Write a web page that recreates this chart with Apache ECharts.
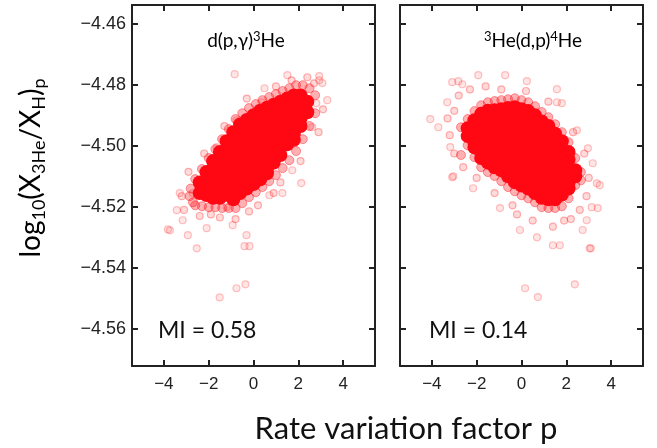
<!DOCTYPE html>
<html>
<head>
<meta charset="utf-8">
<script src="https://cdn.jsdelivr.net/npm/echarts@6/dist/echarts.min.js"></script>
<style>html,body{margin:0;padding:0;background:#fff;}#c{width:657px;height:448px;}</style>
</head>
<body>
<div id="c"></div>
<script>
// ---- data ----
var xTicks = [-4, -2, 0, 2, 4];
var yTicks = [-4.56, -4.54, -4.52, -4.50, -4.48, -4.46];
var miValues = ['0.58', '0.14'];

// d(p,gamma)3He panel : dense core of the cloud
var leftCore = [
  [-2.4,-4.512],[-2.4,-4.5155],
  [-2.1,-4.5086],[-2.1,-4.5111],[-2.1,-4.5136],[-2.1,-4.5161],
  [-1.8,-4.505],[-1.8,-4.5075],[-1.8,-4.510],[-1.8,-4.5125],[-1.8,-4.515],[-1.8,-4.517],
  [-1.5,-4.502],[-1.5,-4.5045],[-1.5,-4.507],[-1.5,-4.5095],[-1.5,-4.512],[-1.5,-4.5145],[-1.5,-4.517],
  [-1.2,-4.4985],[-1.2,-4.501],[-1.2,-4.5035],[-1.2,-4.506],[-1.2,-4.5085],[-1.2,-4.511],[-1.2,-4.5135],[-1.2,-4.516],
  [-0.9,-4.4955],[-0.9,-4.498],[-0.9,-4.5005],[-0.9,-4.503],[-0.9,-4.5055],[-0.9,-4.508],[-0.9,-4.5105],[-0.9,-4.513],[-0.9,-4.5155],[-0.9,-4.5175],
  [-0.6,-4.493],[-0.6,-4.4955],[-0.6,-4.498],[-0.6,-4.5005],[-0.6,-4.503],[-0.6,-4.5055],[-0.6,-4.508],[-0.6,-4.5105],[-0.6,-4.513],[-0.6,-4.5155],
  [-0.3,-4.4915],[-0.3,-4.494],[-0.3,-4.4965],[-0.3,-4.499],[-0.3,-4.5015],[-0.3,-4.504],[-0.3,-4.5065],[-0.3,-4.509],[-0.3,-4.5115],[-0.3,-4.514],
  [0,-4.490],[0,-4.4925],[0,-4.495],[0,-4.4975],[0,-4.500],[0,-4.5025],[0,-4.505],[0,-4.5075],[0,-4.510],[0,-4.5125],
  [0.3,-4.4885],[0.3,-4.491],[0.3,-4.4935],[0.3,-4.496],[0.3,-4.4985],[0.3,-4.501],[0.3,-4.5035],[0.3,-4.506],[0.3,-4.5085],[0.3,-4.511],
  [0.6,-4.4875],[0.6,-4.490],[0.6,-4.4925],[0.6,-4.495],[0.6,-4.4975],[0.6,-4.500],[0.6,-4.5025],[0.6,-4.505],[0.6,-4.5075],[0.6,-4.509],
  [0.9,-4.4865],[0.9,-4.489],[0.9,-4.4915],[0.9,-4.494],[0.9,-4.4965],[0.9,-4.499],[0.9,-4.5015],[0.9,-4.504],[0.9,-4.5055],
  [1.2,-4.4855],[1.2,-4.488],[1.2,-4.4905],[1.2,-4.493],[1.2,-4.4955],[1.2,-4.498],[1.2,-4.5005],[1.2,-4.503],
  [1.5,-4.4845],[1.5,-4.487],[1.5,-4.4895],[1.5,-4.492],[1.5,-4.4945],[1.5,-4.497],[1.5,-4.4995],
  [1.8,-4.4835],[1.8,-4.486],[1.8,-4.4885],[1.8,-4.491],[1.8,-4.4935],[1.8,-4.496],[1.8,-4.498],
  [2.1,-4.4835],[2.1,-4.486],[2.1,-4.4885],[2.1,-4.491],[2.1,-4.4935],
  [2.4,-4.4855],[2.4,-4.489]
];
// soft edge just outside the core
var leftFuzz = [
  [-2.6,-4.5109],[-2.3,-4.5076],[-2.0,-4.504],[-1.7,-4.5011],[-1.4,-4.4978],[-1.1,-4.4945],[-0.8,-4.4912],
  [-0.5,-4.4893],[-0.2,-4.4876],[0.1,-4.4863],[0.4,-4.485],[0.7,-4.484],[1.0,-4.483],[1.3,-4.482],
  [1.6,-4.4811],[1.9,-4.4801],[2.2,-4.4801],[2.5,-4.4811],[2.75,-4.4834],
  [-2.6,-4.5195],[-2.3,-4.5198],[-2.0,-4.5201],[-1.7,-4.5201],[-1.4,-4.5204],[-1.1,-4.5204],[-0.8,-4.5204],
  [-0.5,-4.5188],[-0.2,-4.5168],[0.1,-4.5152],[0.4,-4.5135],[0.7,-4.5116],[1.0,-4.5096],[1.3,-4.5073],
  [1.6,-4.5047],[1.9,-4.5017],[2.2,-4.4978],[2.5,-4.4935],[2.75,-4.4893],
  [-2.8,-4.514],[-2.85,-4.5165],[-2.7,-4.5185]
];
var leftHalo = [
  [-3.1,-4.521],[-2.4,-4.523],[-1.5,-4.5235],[-0.8,-4.524],[0.2,-4.5195],[1.2,-4.512],[2.1,-4.505],
  [2.9,-4.4955],[3.1,-4.488],[2.4,-4.4775],[1.0,-4.4805],[-0.3,-4.4845],[-1.3,-4.4935],[-2.2,-4.5025],
  [-2.9,-4.5085],[-3.2,-4.5165],[2.7,-4.4795],[1.7,-4.4785],[-1.9,-4.5225],[-0.2,-4.5215],[0.9,-4.5155]
];
var leftOut = [
  [-0.84,-4.4765],[1.51,-4.4768],[2.93,-4.4771],[3.07,-4.4794],[0.49,-4.4811],[0.36,-4.4857],
  [2.8,-4.486],[2.62,-4.4939],[-0.76,-4.4916],[-1.64,-4.5004],[1.73,-4.508],[2.13,-4.5122],
  [1.29,-4.5155],[0.71,-4.5162],[-3.73,-4.5277],[-3.42,-4.5211],[-2.93,-4.5293],[-2.53,-4.5336],
  [-0.31,-4.5293],[-0.4,-4.5329],[-0.18,-4.5329],[-0.93,-4.526],[-2.09,-4.527],[-3.16,-4.5244],
  [-2.71,-4.5155],[-1.2,-4.5201],[-1.51,-4.5497],[-0.76,-4.5467],[-0.36,-4.5454],[-3.82,-4.5274],
  [-3.29,-4.5155],[2.93,-4.4785],[3.29,-4.485]
];

// 3He(d,p)4He panel : dense core of the cloud
var rightCore = [
  [-2.4,-4.4942],[-2.4,-4.4968],
  [-2.1,-4.4916],[-2.1,-4.494],[-2.1,-4.4965],[-2.1,-4.499],[-2.1,-4.5005],
  [-1.8,-4.4895],[-1.8,-4.492],[-1.8,-4.4945],[-1.8,-4.497],[-1.8,-4.4995],[-1.8,-4.502],[-1.8,-4.504],
  [-1.5,-4.4885],[-1.5,-4.491],[-1.5,-4.4935],[-1.5,-4.496],[-1.5,-4.4985],[-1.5,-4.501],[-1.5,-4.5035],[-1.5,-4.5055],
  [-1.2,-4.4883],[-1.2,-4.4908],[-1.2,-4.4933],[-1.2,-4.4958],[-1.2,-4.4983],[-1.2,-4.5008],[-1.2,-4.5033],[-1.2,-4.5058],[-1.2,-4.507],
  [-0.9,-4.488],[-0.9,-4.4905],[-0.9,-4.493],[-0.9,-4.4955],[-0.9,-4.498],[-0.9,-4.5005],[-0.9,-4.503],[-0.9,-4.5055],[-0.9,-4.508],
  [-0.6,-4.4876],[-0.6,-4.490],[-0.6,-4.4925],[-0.6,-4.495],[-0.6,-4.4975],[-0.6,-4.500],[-0.6,-4.5025],[-0.6,-4.505],[-0.6,-4.5075],[-0.6,-4.510],
  [-0.3,-4.4873],[-0.3,-4.4898],[-0.3,-4.4923],[-0.3,-4.4948],[-0.3,-4.4973],[-0.3,-4.4998],[-0.3,-4.5023],[-0.3,-4.5048],[-0.3,-4.5073],[-0.3,-4.5098],[-0.3,-4.5119],
  [0,-4.488],[0,-4.4905],[0,-4.493],[0,-4.4955],[0,-4.498],[0,-4.5005],[0,-4.503],[0,-4.5055],[0,-4.508],[0,-4.5105],[0,-4.513],
  [0.3,-4.4886],[0.3,-4.4911],[0.3,-4.4936],[0.3,-4.4961],[0.3,-4.4986],[0.3,-4.5011],[0.3,-4.5036],[0.3,-4.5061],[0.3,-4.5086],[0.3,-4.5111],[0.3,-4.514],
  [0.6,-4.490],[0.6,-4.4925],[0.6,-4.495],[0.6,-4.4975],[0.6,-4.500],[0.6,-4.5025],[0.6,-4.505],[0.6,-4.5075],[0.6,-4.510],[0.6,-4.5125],[0.6,-4.5155],
  [0.9,-4.492],[0.9,-4.4945],[0.9,-4.497],[0.9,-4.4995],[0.9,-4.502],[0.9,-4.5045],[0.9,-4.507],[0.9,-4.5095],[0.9,-4.512],[0.9,-4.5145],[0.9,-4.517],
  [1.2,-4.4935],[1.2,-4.496],[1.2,-4.4985],[1.2,-4.501],[1.2,-4.5035],[1.2,-4.506],[1.2,-4.5085],[1.2,-4.511],[1.2,-4.5135],[1.2,-4.516],[1.2,-4.5175],
  [1.5,-4.496],[1.5,-4.4985],[1.5,-4.501],[1.5,-4.5035],[1.5,-4.506],[1.5,-4.5085],[1.5,-4.511],[1.5,-4.5135],[1.5,-4.516],[1.5,-4.5175],
  [1.8,-4.4985],[1.8,-4.501],[1.8,-4.5035],[1.8,-4.506],[1.8,-4.5085],[1.8,-4.511],[1.8,-4.5135],[1.8,-4.516],
  [2.1,-4.502],[2.1,-4.5045],[2.1,-4.507],[2.1,-4.5095],[2.1,-4.512],[2.1,-4.514],
  [2.4,-4.508],[2.4,-4.510]
];
var rightFuzz = [
  [-2.7,-4.4939],[-2.4,-4.4912],[-2.1,-4.4886],[-1.8,-4.4867],[-1.5,-4.4857],[-1.2,-4.4853],[-0.9,-4.485],
  [-0.6,-4.4847],[-0.3,-4.4844],[0,-4.485],[0.3,-4.4857],[0.6,-4.487],[0.9,-4.4889],[1.2,-4.4906],
  [1.5,-4.4929],[1.8,-4.4955],[2.1,-4.4988],[2.4,-4.504],[2.65,-4.5086],
  [-2.7,-4.503],[-2.4,-4.4998],[-2.1,-4.5037],[-1.8,-4.507],[-1.5,-4.5086],[-1.2,-4.5099],[-0.9,-4.5116],
  [-0.6,-4.5135],[-0.3,-4.5149],[0,-4.5162],[0.3,-4.5172],[0.6,-4.5185],[0.9,-4.5201],[1.2,-4.5204],
  [1.5,-4.5204],[1.8,-4.5198],[2.1,-4.5172],[2.4,-4.5129],[2.65,-4.5113]
];
var rightHalo = [
  [-3.3,-4.491],[-3.0,-4.4885],[-3.2,-4.4965],[-3.0,-4.5025],[-2.8,-4.4835],[-2.3,-4.4815],[-1.6,-4.4805],
  [-0.9,-4.4815],[0.2,-4.482],[3.0,-4.5105],[2.9,-4.5165],[2.6,-4.521],[2.2,-4.524],[1.4,-4.5265],
  [0.5,-4.5245],[-0.4,-4.5195],[-1.2,-4.5155],[-2.0,-4.5105],[-2.6,-4.507],[1.2,-4.4855],[2.3,-4.4955],
  [2.8,-4.5025],[-0.2,-4.5225],[1.9,-4.5245]
];
var rightOut = [
  [-4.07,-4.4912],[-3.71,-4.4939],[-3.09,-4.4791],[-2.82,-4.4788],[-2.64,-4.4798],[-1.93,-4.4768],
  [-0.73,-4.4768],[0.24,-4.4788],[1.58,-4.4814],[1.58,-4.4857],[1.8,-4.486],[-3.31,-4.4857],
  [-3.18,-4.5004],[-3.09,-4.5103],[-2.16,-4.5139],[3.49,-4.5129],[3.4,-4.5204],[3.13,-4.5201],
  [2.91,-4.5244],[2.73,-4.5276],[3.04,-4.5336],[1.4,-4.5326],[1.71,-4.5326],[0.69,-4.53],
  [-0.07,-4.5276],[-0.96,-4.5204],[2.47,-4.4949],[2.96,-4.5008],[3.18,-4.5057],[0.16,-4.5467],
  [0.73,-4.5496],[2.38,-4.5454],[3.09,-4.5336],[-3.04,-4.51],[3.36,-4.5123]
];

// ---- chart ----
var chart = echarts.init(document.getElementById('c'), null, {renderer: 'canvas'});
var X_MIN = -5.42, X_MAX = 5.42, Y_MIN = -4.5722, Y_MAX = -4.4538;
var frameColor = '#222';
var tickFamily = 'Liberation Sans, Arial, sans-serif';
function minus(s){ return String(s).replace('-', '\u2212'); }

var grids = [
  {left: 132, top: 5, width: 243, height: 361},
  {left: 400, top: 5, width: 243, height: 361}
];
var xAxes = [], yAxes = [];
[0,1].forEach(function(g){
  ['bottom','top'].forEach(function(pos){
    xAxes.push({
      type: 'value', gridIndex: g, position: pos, min: X_MIN, max: X_MAX,
      axisLine: {onZero: false, lineStyle: {color: frameColor, width: 2}},
      axisTick: {show: true, inside: true, length: 6, customValues: xTicks, lineStyle: {color: frameColor, width: 2}},
      axisLabel: {show: pos === 'bottom', customValues: xTicks, margin: 10, formatter: function(v){return minus(v);},
        fontFamily: tickFamily, fontSize: 17, color: '#222'},
      splitLine: {show: false}
    });
  });
  ['left','right'].forEach(function(pos){
    yAxes.push({
      type: 'value', gridIndex: g, position: pos, min: Y_MIN, max: Y_MAX,
      axisLine: {onZero: false, lineStyle: {color: frameColor, width: 2}},
      axisTick: {show: true, inside: true, length: 6, customValues: yTicks, lineStyle: {color: frameColor, width: 2}},
      axisLabel: {show: (g === 0 && pos === 'left'), customValues: yTicks, margin: 6,
        formatter: function(v){return minus(Number(v).toFixed(2));},
        fontFamily: tickFamily, fontSize: 18, color: '#222'},
      splitLine: {show: false}
    });
  });
});

function scatterSet(g, out, halo, fuzz, core){
  var xi = g*2, yi = g*2;
  return [
    {type: 'scatter', xAxisIndex: xi, yAxisIndex: yi, data: out, symbolSize: 7, silent: true,
      itemStyle: {color: 'rgba(255,0,0,0.12)', borderColor: 'rgba(255,40,40,0.35)', borderWidth: 1.2}},
    {type: 'scatter', xAxisIndex: xi, yAxisIndex: yi, data: halo, symbolSize: 7, silent: true,
      itemStyle: {color: 'rgba(255,0,0,0.18)', borderColor: 'rgba(255,20,20,0.4)', borderWidth: 1.2}},
    {type: 'scatter', xAxisIndex: xi, yAxisIndex: yi, data: fuzz, symbolSize: 9, silent: true,
      itemStyle: {color: 'rgba(255,10,20,0.4)', borderColor: 'rgba(255,10,20,0.5)', borderWidth: 1}},
    {type: 'scatter', xAxisIndex: xi, yAxisIndex: yi, data: core, symbolSize: 14, silent: true,
      itemStyle: {color: '#ff0814', opacity: 1}}
  ];
}

var labelFont = 'Lato, "Open Sans", sans-serif';
chart.setOption({
  animation: false,
  backgroundColor: '#fff',
  grid: grids,
  xAxis: xAxes,
  yAxis: yAxes,
  series: scatterSet(0, leftOut, leftHalo, leftFuzz, leftCore).concat(scatterSet(1, rightOut, rightHalo, rightFuzz, rightCore)),
  graphic: [
    {type: 'text', x: 246, y: 41, style: {
      text: '{m|d(p,γ)}{s|3}{m|He}', align: 'center', verticalAlign: 'middle',
      rich: {m: {fontFamily: labelFont, fontSize: 19, color: '#111', lineHeight: 22},
             s: {fontFamily: labelFont, fontSize: 13, color: '#111', verticalAlign: 'top', lineHeight: 14}}}},
    {type: 'text', x: 533, y: 41, style: {
      text: '{s|3}{m|He(d,p)}{s|4}{m|He}', align: 'center', verticalAlign: 'middle',
      rich: {m: {fontFamily: labelFont, fontSize: 19, color: '#111', lineHeight: 22},
             s: {fontFamily: labelFont, fontSize: 13, color: '#111', verticalAlign: 'top', lineHeight: 14}}}},
    {type: 'text', x: 158, y: 331, style: {text: 'MI = ' + miValues[0], fontFamily: labelFont, fontSize: 23,
      fill: '#111', align: 'left', verticalAlign: 'middle'}},
    {type: 'text', x: 429, y: 331, style: {text: 'MI = ' + miValues[1], fontFamily: labelFont, fontSize: 23,
      fill: '#111', align: 'left', verticalAlign: 'middle'}},
    {type: 'text', x: 406, y: 429, style: {text: 'Rate variation factor p', fontFamily: labelFont, fontSize: 31,
      fill: '#111', align: 'center', verticalAlign: 'middle'}},
    {type: 'text', x: 31, y: 168, rotation: Math.PI/2, style: {
      text: '{m|log}{s|10}{m|(X}{s|3He}{m|/X}{s|H}{m|)}{s|p}', align: 'center', verticalAlign: 'middle',
      rich: {m: {fontFamily: labelFont, fontSize: 28, color: '#111', lineHeight: 34},
             s: {fontFamily: labelFont, fontSize: 18, color: '#111', verticalAlign: 'bottom', lineHeight: 20}}}}
  ]
});
</script>
</body>
</html>
